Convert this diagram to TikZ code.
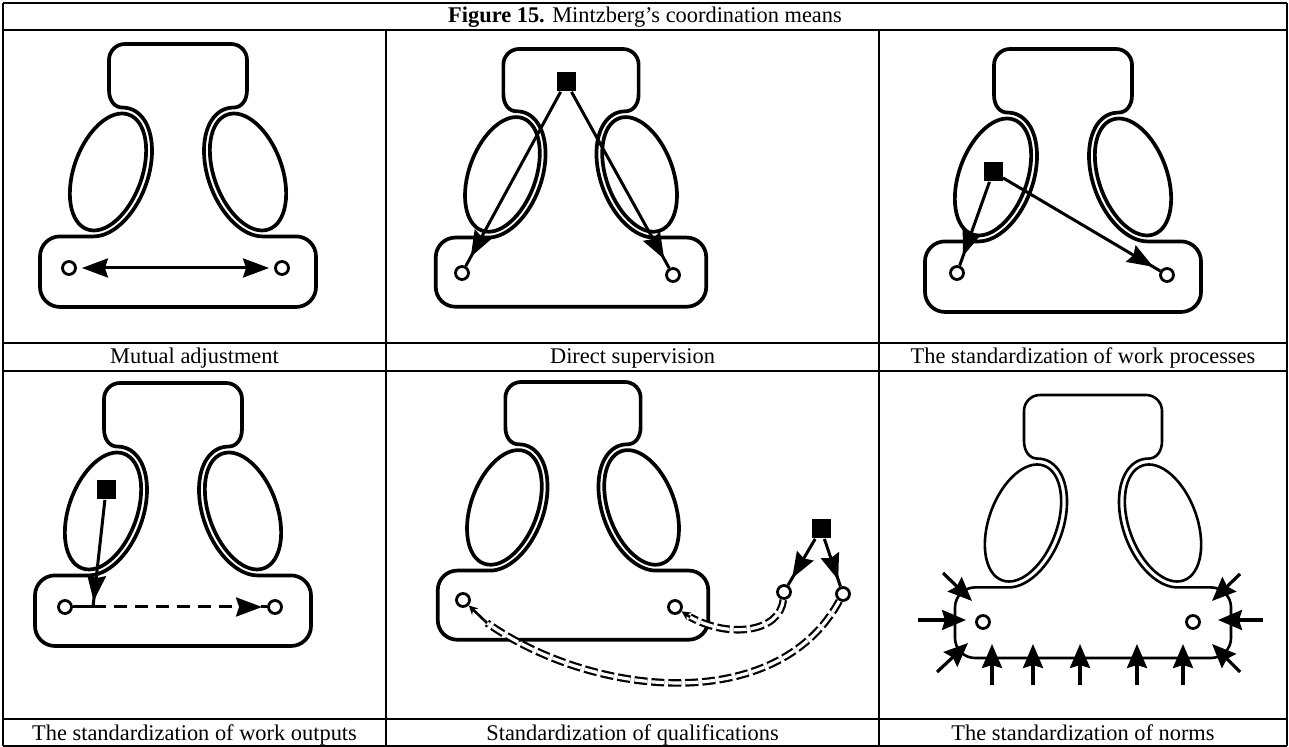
\documentclass[tikz,border=0pt]{standalone}
\usepackage{fontspec}
\setmainfont{Liberation Serif}
\usetikzlibrary{arrows.meta,decorations.markings,calc}
\tikzset{
  x=0.5pt, y=0.5pt,
  outl/.style={line join=round},
  conn/.style={line width=1.5pt},
  dot/.style={circle, draw, line width=1.4pt, fill=white, minimum size=6.5pt, inner sep=0pt},
  sq/.style={rectangle, fill=black, minimum size=9.5pt, inner sep=0pt},
  bigtip/.tip={Stealth[length=13pt,width=9.5pt,inset=1.5pt]},
  normtip/.tip={Stealth[length=12pt,width=10pt,inset=1.5pt]},
  smalltip/.tip={Stealth[length=4.5pt,width=4.5pt]},
  markarr/.style={postaction={decorate}, decoration={markings, mark=at position #1 with {\arrow{bigtip}}}},
  tbl/.style={line width=0.6pt},
  lbl/.style={font=\fontsize{11.2}{13}\selectfont, inner sep=0pt, anchor=base},
  ddash/.style={double, line width=1.1pt, double distance=1.6pt, dash pattern=on 6.5pt off 2pt},
  arr6/.style={line width=1.6pt, -normtip},
  org/.pic={
    \draw[outl] (0,0) -- (53,0) .. controls (61.84,0) and (69,-7.16) .. (69,-16) -- (69,-46)
      .. controls (69,-57) and (63,-63.58) .. (55.59,-63.58)
      -- plot[domain=102.26:-77.74, samples=46, variable=\t]
         ({70-40*cos(\t)*0.9397-67*sin(\t)*0.3420},{-128-40*cos(\t)*0.3420+67*sin(\t)*0.9397})
      -- (118,-192.42) .. controls (129.05,-192.42) and (138,-201.37) .. (138,-212.42)
      -- (138,-243) .. controls (138,-254.05) and (129.05,-263) .. (118,-263)
      -- (-118,-263) .. controls (-129.05,-263) and (-138,-254.05) .. (-138,-243)
      -- (-138,-212.42) .. controls (-138,-201.37) and (-129.05,-192.42) .. (-118,-192.42)
      -- (-84.41,-192.42)
      -- plot[domain=-77.74:102.26, samples=46, variable=\t]
         ({-70+40*cos(\t)*0.9397+67*sin(\t)*0.3420},{-128-40*cos(\t)*0.3420+67*sin(\t)*0.9397})
      .. controls (-63,-63.58) and (-69,-57) .. (-69,-46)
      -- (-69,-16) .. controls (-69,-7.16) and (-61.84,0) .. (-53,0) -- cycle;
    \draw[outl,rotate around={-20:(-70,-128)}] (-70,-128) ellipse[x radius=34,y radius=61];
    \draw[outl,rotate around={20:(70,-128)}] (70,-128) ellipse[x radius=34,y radius=61];
  }
}
\begin{document}
\begin{tikzpicture}
\useasboundingbox (0,0) rectangle (1289,747);
\fill[white] (0,0) rectangle (1289,747);
% table grid
\draw[tbl] (3,744) -- (1287,744);
\draw[tbl] (3,717) -- (1287,717);
\draw[tbl] (3,404) -- (1287,404);
\draw[tbl] (3,376) -- (1287,376);
\draw[tbl] (3,28) -- (1287,28);
\draw[tbl] (3,1) -- (1287,1);
\draw[tbl] (3,744) -- (3,1);
\draw[tbl] (1287,744) -- (1287,1);
\draw[tbl] (386,717) -- (386,1);
\draw[tbl] (879,717) -- (879,1);
% texts
\node[lbl] (title) at (645,724) {\textbf{Figure 15.} Mintzberg’s coordination means};
\node[lbl] (cap1) at (194.5,383) {Mutual adjustment};
\node[lbl] (cap2) at (632.5,383) {Direct supervision};
\node[lbl] (cap3) at (1083,383) {The standardization of work processes};
\node[lbl] (cap4) at (194.5,6) {The standardization of work outputs};
\node[lbl] (cap5) at (632.5,6) {Standardization of qualifications};
\node[lbl] (cap6) at (1083,6) {The standardization of norms};
% figures
\pic[line width=1.85pt] at (178,703) {org};
\pic[line width=1.85pt, scale=0.98] at (571,698) {org};
\pic[line width=1.85pt] at (1063,698) {org};
\pic[line width=1.85pt] at (173,364) {org};
\pic[line width=1.85pt, scale=0.98] at (573,365) {org};
\pic[line width=1.3pt] at (1093,352) {org};
% cell 1
\node[dot] (c1a) at (69,479) {};
\node[dot] (c1b) at (282,479) {};
\draw[conn, bigtip-bigtip, shorten <=2.5pt, shorten >=2.5pt] (c1a) -- (c1b);
% cell 2
\node[sq] (s2) at (566,665) {};
\node[dot] (c2a) at (462,474) {};
\node[dot] (c2b) at (673,472) {};
\draw[conn, markarr=-5pt] (s2) -- (c2a);
\draw[conn, markarr=-5pt] (s2) -- (c2b);
% cell 3
\node[sq] (s3) at (993,575) {};
\node[dot] (c3a) at (957,474) {};
\node[dot] (c3b) at (1167,472) {};
\draw[conn, markarr=-5pt] (s3) -- (c3a);
\draw[conn, markarr=-4pt] (s3) -- (c3b);
% cell 4
\node[sq] (s4) at (106,257) {};
\node[dot] (c4a) at (65,140) {};
\node[dot] (c4b) at (275,140) {};
\coordinate (k4) at (93,140);
\draw[conn] (c4a) -- (k4);
\draw[conn, markarr=-3pt] (s4) -- (k4);
\draw[conn, dash pattern=on 6.5pt off 4pt, markarr=-2.5pt] (k4) -- (c4b);
% cell 5
\node[sq] (s5) at (821,218) {};
\node[dot] (c5c) at (784,155) {};
\node[dot] (c5d) at (843,153) {};
\node[dot] (c5a) at (463,147) {};
\node[dot] (c5b) at (675,140) {};
\draw[conn, markarr=-4pt] (s5) -- (c5c);
\draw[conn, markarr=-3.5pt] (s5) -- (c5d);
\coordinate (e5a) at (487,124);
\coordinate (e5b) at (690,130);
\draw[ddash] (c5c) .. controls (780,115) and (730,108) .. (e5b);
\draw[ddash] (c5d) .. controls (777,31.4) and (593.5,49.4) .. (e5a);
\draw[line width=1.3pt, -smalltip] (e5a) -- (c5a);
\draw[line width=1.3pt, -smalltip] (e5b) -- (c5b);
% cell 6
\node[dot] (c6a) at (983,125) {};
\node[dot] (c6b) at (1193,125) {};
\foreach \n/\tx/\ty/\hx/\hy in {
  l1/943/174/972/146, l2/918/127/966/127, l3/937/75/968/104,
  b1/992/62/992/103, b2/1033/62/1033/103, b3/1080/62/1080/103, b4/1137/62/1137/103, b5/1183/62/1183/103,
  r1/1240/173/1212/146, r2/1263/127/1218/127, r3/1240/75/1212/103}{
  \coordinate (t\n) at (\tx,\ty);
  \coordinate (h\n) at (\hx,\hy);
  \draw[arr6] (t\n) -- (h\n);
}
\end{tikzpicture}
\end{document}
